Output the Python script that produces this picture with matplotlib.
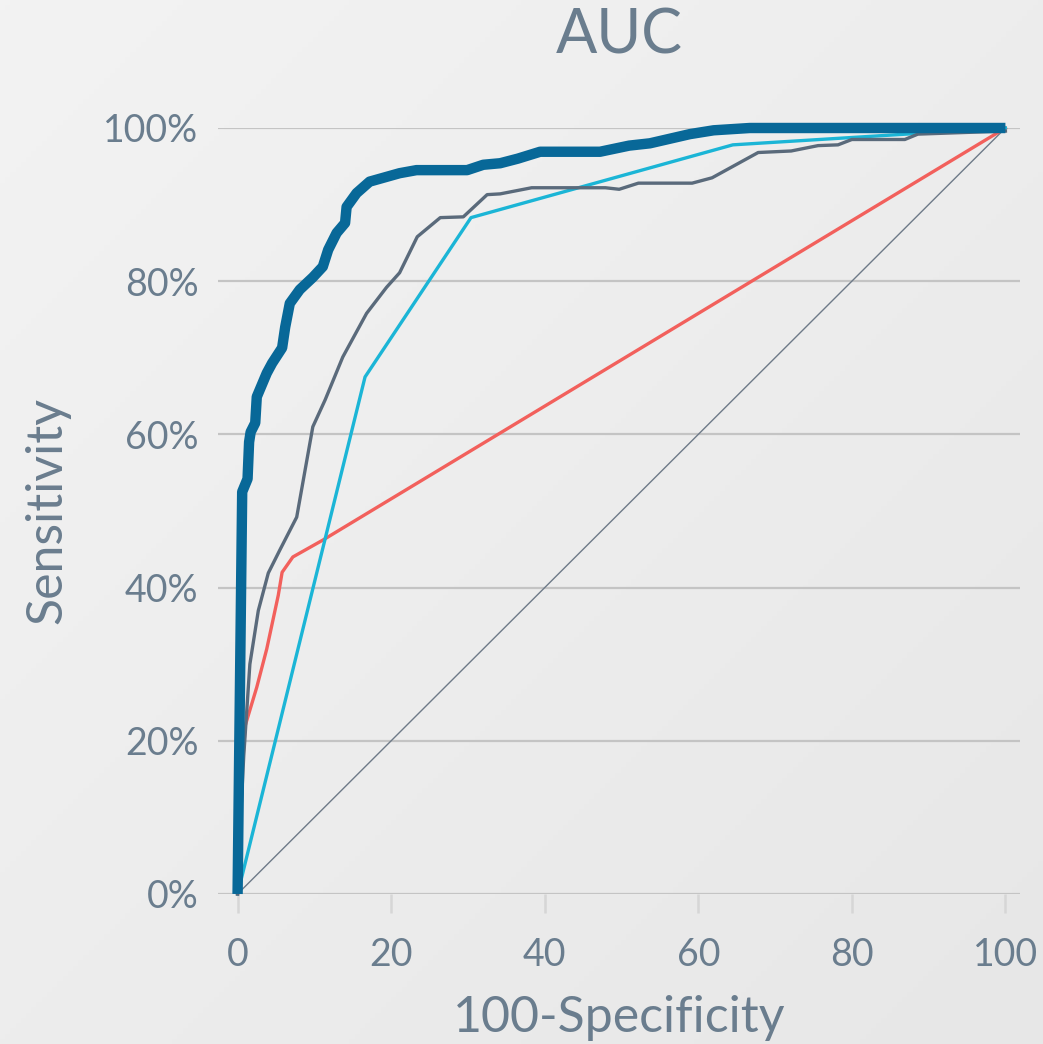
import numpy as np
import matplotlib
matplotlib.use("Agg")
import matplotlib.pyplot as plt
from matplotlib.colors import LinearSegmentedColormap

# ROC curves: x = 100-Specificity, y = Sensitivity (%)
main_x = [0, 0.6, 1.3, 1.5, 1.7, 2.3, 2.5, 3.8, 4.5, 5.8, 6.2, 6.8, 8.1, 9.8, 11.1,
          11.8, 12.9, 14.0, 14.2, 15.5, 17.2, 21.1, 23.3, 29.9, 32.0, 34.2, 36.5,
          39.4, 47.2, 51.0, 53.7, 58.9, 62.0, 66.7, 100]
main_y = [0, 52.5, 54.2, 59.0, 60.3, 61.5, 64.9, 68.0, 69.3, 71.3, 74.0, 77.1, 78.9,
          80.5, 81.9, 84.1, 86.3, 87.6, 89.7, 91.5, 93.0, 94.1, 94.5, 94.5, 95.2,
          95.4, 96.0, 96.9, 96.9, 97.7, 98.0, 99.2, 99.7, 100, 100]

slate_x = [0, 0.3, 0.8, 1.6, 2.7, 4.0, 5.5, 7.7, 8.5, 9.8, 11.4, 13.7, 16.8, 19.4,
           21.1, 23.4, 26.4, 29.4, 32.5, 34.2, 38.3, 47.9, 49.7, 52.2, 59.2, 61.8,
           67.8, 72.1, 75.6, 78.2, 80.0, 86.9, 88.6, 100]
slate_y = [0, 8, 18, 30, 37, 41.9, 44.9, 49.2, 53.7, 61.0, 64.5, 70.1, 75.8, 79.2,
           81.1, 85.8, 88.3, 88.4, 91.3, 91.4, 92.2, 92.2, 92.0, 92.8, 92.8, 93.5,
           96.8, 97.0, 97.7, 97.8, 98.5, 98.5, 99.2, 99.6]

cyan_x = [0, 16.6, 30.4, 64.5, 100]
cyan_y = [0, 67.5, 88.3, 97.8, 100]

red_x = [0, 0.5, 1.0, 2.5, 3.8, 5.3, 5.8, 7.2, 11.1, 100]
red_y = [0, 15, 22, 27, 32, 39, 42, 44, 46.2, 100]

ref_x = [0, 100]
ref_y = [0, 100]

x_ticks = [0, 20, 40, 60, 80, 100]
y_ticks = [0, 20, 40, 60, 80, 100]
y_tick_labels = ["0%", "20%", "40%", "60%", "80%", "100%"]

TEXT = "#6a7d8e"
FONT = ["Lato", "DejaVu Sans"]

fig = plt.figure(figsize=(10.43, 10.44), dpi=100)

# soft diagonal background gradient
bg = fig.add_axes([0, 0, 1, 1], zorder=-10)
gx, gy = np.meshgrid(np.linspace(0, 1, 200), np.linspace(0, 1, 200))
cmap = LinearSegmentedColormap.from_list("bg", ["#f3f3f3", "#e7e7e7"])
bg.imshow((gx + gy) / 2, cmap=cmap, aspect="auto", extent=[0, 1, 0, 1],
          origin="upper", vmin=0, vmax=1)
bg.axis("off")

ax = fig.add_axes([218 / 1043, (1044 - 894) / 1044, 802 / 1043, 766 / 1044])
ax.patch.set_alpha(0)
ax.set_xlim(-2.55, 101.9)
ax.set_ylim(0, 100)

for s in ax.spines.values():
    s.set_visible(False)

ax.set_yticks(y_ticks)
ax.set_yticklabels(y_tick_labels)
ax.set_xticks(x_ticks)
ax.yaxis.grid(True, color="#c4c4c4", lw=1.6)
ax.set_axisbelow(True)
ax.tick_params(axis="y", length=0, pad=14, labelsize=27, labelcolor=TEXT)
ax.tick_params(axis="x", length=14, width=1.8, color="#d6d6d6", pad=17,
               labelsize=27, labelcolor=TEXT)
for lab in ax.get_xticklabels() + ax.get_yticklabels():
    lab.set_family(FONT)
    lab.set_fontweight("normal")

ax.plot(ref_x, ref_y, color="#6e7a88", lw=1.0, zorder=2, clip_on=False)
ax.plot(red_x, red_y, color="#f2605c", lw=2.4, zorder=3, clip_on=False,
        solid_joinstyle="round")
ax.plot(cyan_x, cyan_y, color="#1bb5d6", lw=2.4, zorder=4, clip_on=False)
ax.plot(slate_x, slate_y, color="#5a6a7b", lw=2.4, zorder=5, clip_on=False,
        solid_joinstyle="round")
ax.plot(main_x, main_y, color="#086898", lw=7.5, zorder=6, clip_on=False,
        solid_joinstyle="round", solid_capstyle="butt")

ax.set_xlabel("100-Specificity", fontsize=36, color=TEXT, family=FONT,
              fontweight="normal", labelpad=16)
ax.set_ylabel("Sensitivity", fontsize=36, color=TEXT, family=FONT,
              fontweight="normal", labelpad=24)
fig.text(619 / 1043, 1 - 36 / 1044, "AUC", fontsize=44, color=TEXT, family=FONT,
         fontweight="normal", ha="center", va="center")

fig.savefig("out.png", dpi=100)
